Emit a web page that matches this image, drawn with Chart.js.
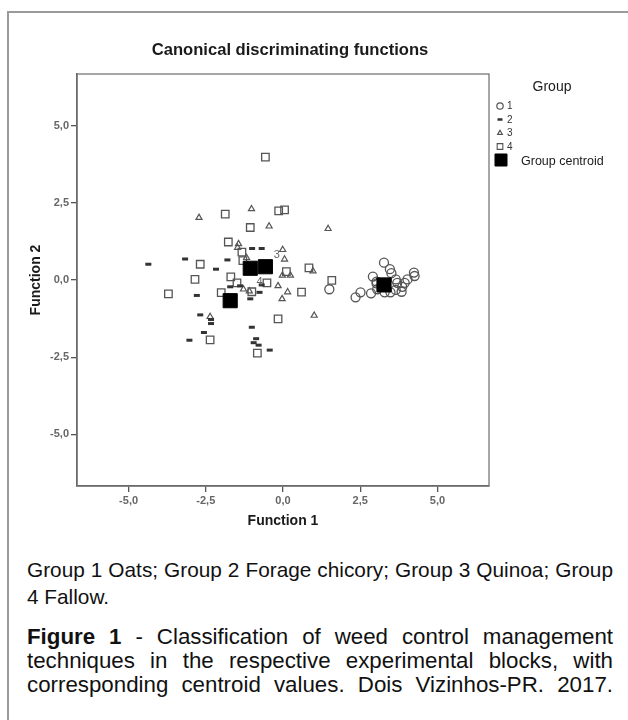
<!DOCTYPE html>
<html><head><meta charset="utf-8">
<script src="https://cdn.jsdelivr.net/npm/chart.js@4/dist/chart.umd.min.js"></script>
<style>
html,body{margin:0;padding:0;background:#fff;width:628px;height:720px;overflow:hidden;font-family:"Liberation Sans",Arial,sans-serif;}
#frame{position:absolute;left:7px;top:11px;width:700px;height:760px;border-top:2px solid #9a9a9a;border-left:2px solid #9a9a9a;}
#wrap{position:absolute;left:0;top:0;width:628px;height:540px;}
.cap{position:absolute;left:27px;width:586px;color:#111;}
.cap div{text-align:justify;text-align-last:justify;white-space:nowrap;}
.cap div.last{text-align-last:left;}
#cap1{top:556px;line-height:27px;font-size:20.8px;}
#cap2{top:625px;line-height:24px;font-size:22.3px;}
</style></head>
<body>
<div id="frame"></div>
<div id="wrap"><canvas id="c" width="628" height="540"></canvas></div>
<div class="cap" id="cap1"><div>Group 1 Oats; Group 2 Forage chicory; Group 3 Quinoa; Group</div><div class="last">4 Fallow.</div></div>
<div class="cap" id="cap2"><div><b>Figure 1</b> - Classification of weed control management</div><div>techniques in the respective experimental blocks, with</div><div>corresponding centroid values. Dois Vizinhos-PR. 2017.</div></div>
<script>
const tickValues = [-5, -2.5, 0, 2.5, 5];
const legendLabels = ['1', '2', '3', '4'];
const group1X = [3.27,3.46,3.51,2.91,3.03,4.24,4.26,4.03,3.94,3.70,3.86,3.65,3.84,3.48,3.29,3.05,2.85,2.51,2.35,3.65,3.03,1.50];
const group1Y = [0.56,0.35,0.22,0.11,-0.05,0.24,0.13,0.02,-0.09,-0.09,-0.22,-0.32,-0.38,-0.40,-0.40,-0.30,-0.43,-0.40,-0.56,0.02,-0.11,-0.30];
const group2X = [-4.36,-3.17,-2.17,-1.00,-0.69,-1.80,-2.79,-1.71,-1.06,-0.76,-0.69,-2.68,-2.33,-2.33,-2.56,-3.03,-1.01,-0.87,-0.95,-0.79,-0.43,-1.39];
const group2Y = [0.51,0.68,0.35,1.02,1.02,0.65,-0.50,-0.22,-0.61,-0.40,-0.16,-1.13,-1.41,-1.28,-1.70,-1.95,-1.53,-1.90,-2.03,-2.11,-2.27,-0.19];
const group3X = [-2.72,-1.02,-0.45,1.46,-1.44,-1.47,-0.01,0.05,-1.18,-0.02,0.24,-0.16,0.15,-0.03,1.01,-1.28,-1.09,0.97,-2.36];
const group3Y = [2.02,2.30,1.74,1.66,1.17,1.05,0.98,0.67,0.72,0.15,0.15,-0.19,-0.39,-0.61,-1.15,-0.30,-0.36,0.29,-1.19];
const group4X = [-0.57,-1.87,-0.14,0.05,-1.06,-1.77,-1.33,-1.30,-2.68,-1.69,-2.85,-1.49,-3.71,-2.00,-1.01,-0.52,0.11,0.84,1.58,0.60,-0.16,-2.36,-0.83];
const group4Y = [3.98,2.13,2.24,2.27,1.70,1.23,0.90,0.63,0.51,0.10,0.02,-0.09,-0.45,-0.41,-0.38,-0.09,0.27,0.39,-0.01,-0.39,-1.26,-1.94,-2.37];
const centroidX = [3.27,-1.71,-0.57,-1.06];
const centroidY = [-0.16,-0.67,0.43,0.38];
const centroidLabels = [{t:'3', x:-0.2, y:0.81}, {t:'4', x:-0.76, y:-0.05}];

const pts = (xs, ys) => xs.map((x, i) => ({x, y: ys[i]}));
const FONT = '"Liberation Sans", Arial, sans-serif';
const fmt = v => Number(v).toFixed(1).replace('.', ',');

const styles = [
  {pointStyle:'circle', radius:4.5, borderWidth:1.3, borderColor:'#555', backgroundColor:'rgba(0,0,0,0)'},
  {pointStyle:'line', radius:3, borderWidth:3, borderColor:'#333', backgroundColor:'#333'},
  {pointStyle:'triangle', radius:3.5, borderWidth:1.2, borderColor:'#555', backgroundColor:'rgba(0,0,0,0)'},
  {pointStyle:'rect', radius:5.3, borderWidth:1.3, borderColor:'#555', backgroundColor:'rgba(0,0,0,0)'}
];
const mk = (label, data, s, order) => ({label, data, order, pointStyle:s.pointStyle, pointRadius:s.radius, pointHoverRadius:s.radius,
  pointBorderWidth:s.borderWidth, pointBorderColor:s.borderColor, pointBackgroundColor:s.backgroundColor, showLine:false});

const overlay = {
  id:'overlay',
  afterDraw(chart){
    const {ctx, chartArea:a, scales} = chart;
    ctx.save();
    ctx.strokeStyle = '#777'; ctx.lineWidth = 1.3;
    ctx.strokeRect(a.left, a.top, a.right - a.left, a.bottom - a.top);
    ctx.fillStyle = '#1a1a1a'; ctx.font = 'bold 16.6px ' + FONT; ctx.textAlign = 'center'; ctx.textBaseline = 'middle';
    ctx.fillText('Canonical discriminating functions', 290, 50);
    ctx.fillStyle = '#666'; ctx.font = '11px ' + FONT;
    centroidLabels.forEach(l => ctx.fillText(l.t, scales.x.getPixelForValue(l.x), scales.y.getPixelForValue(l.y)));
    ctx.fillStyle = '#1a1a1a'; ctx.font = '14px ' + FONT; ctx.textAlign = 'center';
    ctx.fillText('Group', 552, 87);
    const rows = [106, 119.5, 133, 146.5];
    const lstyles = [
      {pointStyle:'circle', radius:3.2, borderWidth:1.2},
      {pointStyle:'line', radius:2.5, borderWidth:2.5},
      {pointStyle:'triangle', radius:2.8, borderWidth:1.1},
      {pointStyle:'rect', radius:4, borderWidth:1.1}
    ];
    ctx.textAlign = 'left'; ctx.font = '10px ' + FONT;
    rows.forEach((y, i) => {
      ctx.strokeStyle = styles[i].borderColor; ctx.fillStyle = styles[i].backgroundColor; ctx.lineWidth = lstyles[i].borderWidth;
      Chart.helpers.drawPoint(ctx, {pointStyle:lstyles[i].pointStyle, radius:lstyles[i].radius, rotation:0, borderWidth:lstyles[i].borderWidth}, 500, y);
      ctx.fillStyle = '#333';
      ctx.fillText(legendLabels[i], 507, y + 0.5);
    });
    ctx.fillStyle = '#000'; ctx.strokeStyle = '#000'; ctx.lineWidth = 1;
    Chart.helpers.drawPoint(ctx, {pointStyle:'rect', radius:8.5, rotation:0, borderWidth:1}, 501, 160);
    ctx.fillStyle = '#1a1a1a'; ctx.font = '12.5px ' + FONT;
    ctx.fillText('Group centroid', 521, 162);
    ctx.restore();
  }
};

const axisCommon = {
  type:'linear', min:-6.67, max:6.67,
  afterBuildTicks: s => { s.ticks = tickValues.map(v => ({value:v})); },
  grid:{display:true, drawOnChartArea:false, drawTicks:true, tickLength:6, color:'#555', lineWidth:1.3},
  border:{display:true, color:'#555', width:1.5},
  ticks:{color:'#666', font:{family:FONT, size:11, weight:'bold'}, callback:v => fmt(v), padding:2, autoSkip:false, maxRotation:0}
};

new Chart(document.getElementById('c'), {
  type:'scatter',
  data:{datasets:[
    {label:'Group centroid', data:pts(centroidX, centroidY), order:0, pointStyle:'rect', pointRadius:10, pointHoverRadius:10, pointBorderWidth:1, pointBorderColor:'#000', pointBackgroundColor:'#000'},
    mk('1', pts(group1X, group1Y), styles[0], 1),
    mk('2', pts(group2X, group2Y), styles[1], 1),
    mk('3', pts(group3X, group3Y), styles[2], 1),
    mk('4', pts(group4X, group4Y), styles[3], 1)
  ]},
  options:{
    responsive:false, animation:false, devicePixelRatio:1,
    layout:{padding:{left:0, top:74, right:139, bottom:0}},
    plugins:{legend:{display:false}, title:{display:false}, tooltip:{enabled:false}},
    events:[],
    scales:{
      x:Object.assign({}, axisCommon, {position:'bottom',
        afterFit: s => { s.height = 54; },
        title:{display:true, text:'Function 1', color:'#1a1a1a', font:{family:FONT, size:14, weight:'bold'}, padding:{top:0, bottom:10}}}),
      y:Object.assign({}, axisCommon, {position:'left',
        afterFit: s => { s.width = 77; },
        title:{display:true, text:'Function 2', color:'#1a1a1a', font:{family:FONT, size:14, weight:'bold'}, padding:{top:28, bottom:0}}})
    }
  },
  plugins:[overlay]
});
</script>
</body></html>
